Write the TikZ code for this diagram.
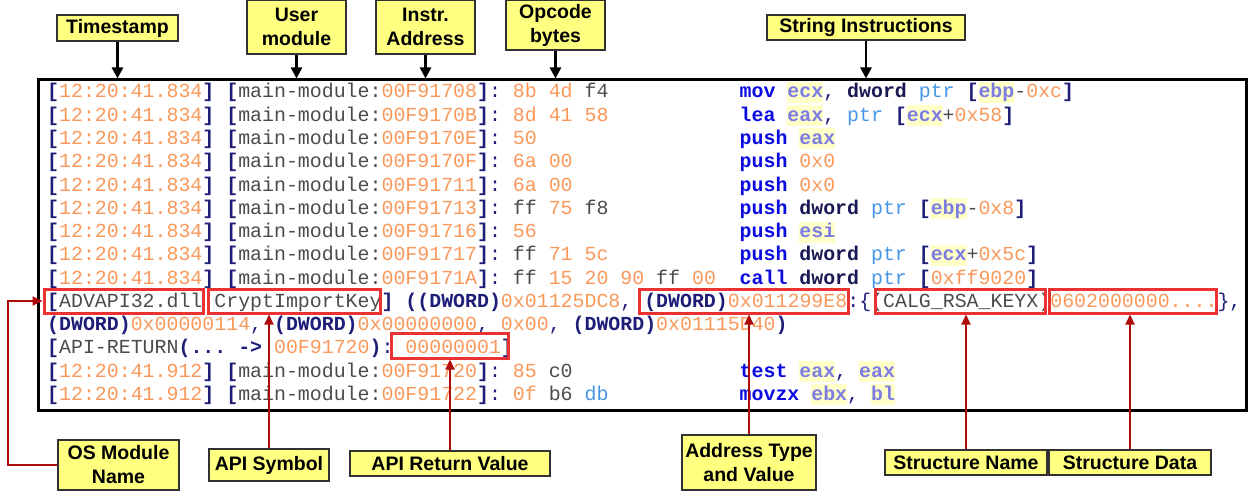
\documentclass[tikz,border=0pt]{standalone}
\usepackage{fontspec}
\setmainfont{Liberation Sans}
\setmonofont{Liberation Mono}
\usetikzlibrary{arrows.meta,fit}
\frenchspacing
\definecolor{navc}{RGB}{30,30,120}
\definecolor{orc}{RGB}{250,152,90}
\definecolor{grc}{RGB}{75,75,75}
\definecolor{kwc}{RGB}{10,10,225}
\definecolor{regc}{RGB}{125,125,225}
\definecolor{hlc}{RGB}{255,255,200}
\definecolor{dwc}{RGB}{25,25,85}
\definecolor{ptc}{RGB}{70,150,230}
\definecolor{yelc}{RGB}{255,255,128}
\definecolor{boxc}{RGB}{50,50,50}
\definecolor{redc}{RGB}{235,50,50}
\definecolor{darkred}{RGB}{175,10,10}
\newcommand\tnv[1]{\textcolor{navc}{#1}}
\newcommand\tnvb[1]{\textcolor{navc}{\bfseries #1}}
\newcommand\tor[1]{\textcolor{orc}{#1}}
\newcommand\tgr[1]{\textcolor{grc}{#1}}
\newcommand\tkw[1]{\textcolor{kwc}{\bfseries #1}}
\newcommand\tdw[1]{\textcolor{dwc}{\bfseries #1}}
\newcommand\tpt[1]{\textcolor{ptc}{#1}}
\newcommand\trg[1]{{\setlength{\fboxsep}{0pt}\colorbox{hlc}{\rule[-5pt]{0pt}{21pt}\textcolor{regc}{\bfseries #1}}}}
\newcommand\lhead[3]{\tnvb{[}\tor{12:20:41.#1}\tnvb{]} \tnvb{[}\tgr{main-module:}\tor{#2}\tnvb{]}\tnv{:} #3}
\tikzset{
  codeln/.style={anchor=base west, inner sep=0pt, font=\ttfamily\fontsize{19.9}{23}\selectfont},
  labelbox/.style={draw=boxc, fill=yelc, line width=1.3pt, inner sep=0pt, align=center,
    font=\fontsize{19.5}{24}\selectfont\bfseries, text=black},
  redbox/.style={draw=redc, line width=3pt, inner sep=0pt},
  framebox/.style={draw=black, line width=3pt, inner sep=0pt},
  blkarrow/.style={draw=black, line width=2.5pt, -{Triangle[length=11pt,width=11pt]}},
  redarrow/.style={draw=darkred, line width=2pt, -{Triangle[length=10pt,width=9pt]}}
}
\begin{document}
\begin{tikzpicture}[x=1pt,y=-1pt]
\useasboundingbox (0,0) rectangle (1250,492);
\node[framebox, fit={(38,80) (1246,410)}] (frame) {};
% code lines, left part
\node[codeln] (c1) at (47,98) {\lhead{834}{00F91708}{\tor{8b} \tor{4d} \tgr{f4}}};
\node[codeln] (c2) at (47,121.25) {\lhead{834}{00F9170B}{\tor{8d} \tor{41} \tor{58}}};
\node[codeln] (c3) at (47,144.5) {\lhead{834}{00F9170E}{\tor{50}}};
\node[codeln] (c4) at (47,167.75) {\lhead{834}{00F9170F}{\tor{6a} \tor{00}}};
\node[codeln] (c5) at (47,191) {\lhead{834}{00F91711}{\tor{6a} \tor{00}}};
\node[codeln] (c6) at (47,214.25) {\lhead{834}{00F91713}{\tgr{ff} \tor{75} \tgr{f8}}};
\node[codeln] (c7) at (47,237.5) {\lhead{834}{00F91716}{\tor{56}}};
\node[codeln] (c8) at (47,260.75) {\lhead{834}{00F91717}{\tgr{ff} \tor{71} \tor{5c}}};
\node[codeln] (c9) at (47,284) {\lhead{834}{00F9171A}{\tgr{ff} \tor{15} \tor{20} \tor{90} \tgr{ff} \tor{00}}};
\node[codeln] (c10) at (47,307.25) {\tnvb{[}\tgr{ADVAPI32.dll}\tnv{:}\tgr{CryptImportKey}\tnvb{]} \tnvb{((DWORD)}\tor{0x01125DC8}\tnv{,} \tnvb{(DWORD)}\tor{0x011299E8}\tnv{:\{}\tgr{(CALG\textunderscore RSA\textunderscore KEYX)}\tor{0602000000....}\tnv{\},}};
\node[codeln] (c11) at (47,330.5) {\tnvb{(DWORD)}\tor{0x00000114}\tnv{,} \tnvb{(DWORD)}\tor{0x00000000}\tnv{,} \tor{0x00}\tnv{,} \tnvb{(DWORD)}\tor{0x01115D40}\tnvb{)}};
\node[codeln] (c12) at (47,353.75) {\tnvb{[}\tgr{API-RETURN}\tnvb{(...} \tnvb{->} \tor{00F91720}\tnvb{)}\tnv{:} \tor{00000001}\tnvb{]}};
\node[codeln] (c13) at (47,377) {\lhead{912}{00F91720}{\tor{85} \tgr{c0}}};
\node[codeln] (c14) at (47,400.25) {\lhead{912}{00F91722}{\tor{0f} \tgr{b6} \tpt{db}}};
% instructions
\node[codeln] (i1) at (739.5,98) {\tkw{mov} \trg{ecx}\tnv{,} \tdw{dword} \tpt{ptr} \tnvb{[}\trg{ebp}\tgr{-}\tor{0xc}\tnvb{]}};
\node[codeln] (i2) at (739.5,121.25) {\tkw{lea} \trg{eax}\tnv{,} \tpt{ptr} \tnvb{[}\trg{ecx}\tgr{+}\tor{0x58}\tnvb{]}};
\node[codeln] (i3) at (739.5,144.5) {\tkw{push} \trg{eax}};
\node[codeln] (i4) at (739.5,167.75) {\tkw{push} \tor{0x0}};
\node[codeln] (i5) at (739.5,191) {\tkw{push} \tor{0x0}};
\node[codeln] (i6) at (739.5,214.25) {\tkw{push} \tdw{dword} \tpt{ptr} \tnvb{[}\trg{ebp}\tgr{-}\tor{0x8}\tnvb{]}};
\node[codeln] (i7) at (739.5,237.5) {\tkw{push} \trg{esi}};
\node[codeln] (i8) at (739.5,260.75) {\tkw{push} \tdw{dword} \tpt{ptr} \tnvb{[}\trg{ecx}\tgr{+}\tor{0x5c}\tnvb{]}};
\node[codeln] (i9) at (739.5,284) {\tkw{call} \tdw{dword} \tpt{ptr} \tnvb{[}\tor{0xff9020}\tnvb{]}};
\node[codeln] (i13) at (739.5,377) {\tkw{test} \trg{eax}\tnv{,} \trg{eax}};
\node[codeln] (i14) at (739.5,400.25) {\tkw{movzx} \trg{ebx}\tnv{,} \trg{bl}};
% red highlight boxes
\node[redbox, fit={(44,289) (203,313)}] (rADV) {};
\node[redbox, fit={(208,289) (380,313)}] (rCry) {};
\node[redbox, fit={(639,289) (848,313)}] (rDW) {};
\node[redbox, fit={(875,289) (1045,313)}] (rCALG) {};
\node[redbox, fit={(1049,289) (1216,313)}] (rData) {};
\node[redbox, fit={(391,333) (508,358)}] (rRet) {};
% top labels
\node[labelbox, fit={(57,15) (178,41)}] (lTS) {};
\node[font=\fontsize{19.5}{24}\selectfont\bfseries] (tTS) at (lTS.center) {Timestamp};
\node[labelbox, fit={(247,0) (346,54)}] (lUM) {};
\node[font=\fontsize{19.5}{24}\selectfont\bfseries, align=center] (tUM) at (lUM.center) {User\\module};
\node[labelbox, fit={(376,0) (475,54)}] (lIA) {};
\node[font=\fontsize{19.5}{24}\selectfont\bfseries, align=center] (tIA) at (lIA.center) {Instr.\\Address};
\node[labelbox, fit={(506,0) (605,50)}] (lOB) {};
\node[font=\fontsize{19.5}{24}\selectfont\bfseries, align=center] (tOB) at (lOB.center) {Opcode\\bytes};
\node[labelbox, fit={(767,15) (965,40)}] (lSI) {};
\node[font=\fontsize{19.5}{24}\selectfont\bfseries] (tSI) at (lSI.center) {String Instructions};
% bottom labels
\node[labelbox, fit={(58,440) (179,490)}] (lOS) {};
\node[font=\fontsize{19.5}{24}\selectfont\bfseries, align=center] (tOS) at (lOS.center) {OS Module\\Name};
\node[labelbox, fit={(209,449) (329,481)}] (lSym) {};
\node[font=\fontsize{19.5}{24}\selectfont\bfseries] (tSym) at (lSym.center) {API Symbol};
\node[labelbox, fit={(350,451) (550,476)}] (lRet) {};
\node[font=\fontsize{19.5}{24}\selectfont\bfseries] (tRet) at (lRet.center) {API Return Value};
\node[labelbox, fit={(682,435) (816,490)}] (lAddr) {};
\node[font=\fontsize{19.5}{24}\selectfont\bfseries, align=center] (tAddr) at (lAddr.center) {Address Type\\and Value};
\node[labelbox, fit={(885,450) (1047,475)}] (lSN) {};
\node[font=\fontsize{19.5}{24}\selectfont\bfseries] (tSN) at (lSN.center) {Structure Name};
\node[labelbox, fit={(1049,450) (1211,475)}] (lSD) {};
\node[font=\fontsize{19.5}{24}\selectfont\bfseries] (tSD) at (lSD.center) {Structure Data};
% top arrows
\draw[blkarrow] (lTS.south) -- (lTS.south |- frame.north);
\draw[blkarrow] (lUM.south) -- (lUM.south |- frame.north);
\draw[blkarrow] (lIA.south) -- (lIA.south |- frame.north);
\draw[blkarrow] (lOB.south) -- (lOB.south |- frame.north);
\draw[blkarrow] (lSI.south) -- (lSI.south |- frame.north);
% bottom connectors
\coordinate (osc) at (8,465);
\draw[redarrow] (lOS.west) -- (lOS.west -| osc) -- (osc |- rADV.west) -- (rADV.west);
\draw[redarrow] (lSym.north) -- (lSym.north |- rCry.south);
\draw[redarrow] (lRet.north) -- (lRet.north |- rRet.south);
\draw[redarrow] (lAddr.north) -- (lAddr.north |- rDW.south);
\draw[redarrow] (lSN.north) -- (lSN.north |- rCALG.south);
\draw[redarrow] (lSD.north) -- (lSD.north |- rData.south);
\end{tikzpicture}
\end{document}
